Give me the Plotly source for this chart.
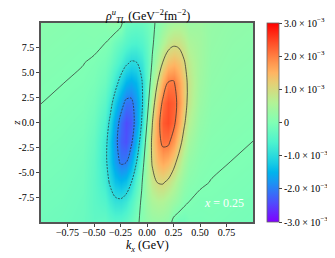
import plotly.graph_objects as go

# grid coordinates
KX = [-1.0, -0.8, -0.6, -0.5, -0.4, -0.35, -0.3, -0.25, -0.2, -0.15, -0.1, -0.05, 0.0,
      0.05, 0.1, 0.15, 0.2, 0.25, 0.3, 0.35, 0.4, 0.5, 0.6, 0.8, 1.0]
Z = [-10, -8, -6, -4, -2, 0, 2, 4, 6, 8, 10]

# rho_TL^u values in units of 1e-3 GeV^-2 fm^-2, one row per z (bottom to top)
row_m10 = [-0.179, -0.207, -0.26, -0.37, -0.332, -0.435, -0.489, -0.471, -0.378, -0.236, -0.076, 0.075, 0.194,
           0.267, 0.286, 0.256, 0.197, -0.10, -0.19, -0.17, -0.08, -0.075, -0.065, -0.093, -0.12]
row_m8 = [-0.149, -0.177, -0.24, -0.40, -0.531, -0.738, -0.883, -0.905, -0.782, -0.542, -0.241, 0.064, 0.326,
          0.510, 0.591, 0.566, 0.462, 0.322, 0.193, 0.05, -0.006, -0.045, -0.035, -0.063, -0.09]
row_m6 = [-0.119, -0.147, -0.21, -0.40, -0.714, -1.054, -1.339, -1.461, -1.351, -1.027, -0.560, -0.044, 0.434,
          0.808, 1.020, 1.045, 0.909, 0.671, 0.429, 0.236, 0.112, 0.027, -0.004, -0.033, -0.06]
row_m4 = [-0.089, -0.117, -0.18, -0.37, -0.808, -1.265, -1.707, -2.06, -2.03, -1.611, -1.016, -0.294, 0.437,
          1.057, 1.473, 1.620, 1.503, 1.180, 0.798, 0.465, 0.235, 0.079, 0.029, -0.003, -0.03]
row_m2 = [-0.059, -0.087, -0.14, -0.31, -0.768, -1.279, -1.830, -2.256, -2.379, -2.109, -1.487, -0.642, 0.278,
          1.132, 1.781, 2.111, 2.096, 1.744, 1.253, 0.775, 0.415, 0.15, 0.064, 0.027, -0.002]
row_0 = [-0.029, -0.057, -0.10, -0.23, -0.615, -1.085, -1.65, -2.16, -2.42, -2.30, -1.789, -0.974, 0.0,
         0.974, 1.789, 2.30, 2.42, 2.16, 1.65, 1.085, 0.615, 0.23, 0.10, 0.057, 0.029]
row_2 = [0.002, -0.027, -0.064, -0.15, -0.415, -0.775, -1.253, -1.744, -2.096, -2.111, -1.781, -1.132, -0.278,
         0.642, 1.487, 2.109, 2.379, 2.256, 1.830, 1.279, 0.768, 0.31, 0.14, 0.087, 0.059]
row_4 = [0.03, 0.003, -0.029, -0.079, -0.235, -0.465, -0.798, -1.180, -1.503, -1.620, -1.473, -1.057, -0.437,
         0.294, 1.016, 1.611, 2.03, 2.06, 1.707, 1.265, 0.808, 0.37, 0.18, 0.117, 0.089]
row_6 = [0.06, 0.033, 0.004, -0.027, -0.112, -0.236, -0.429, -0.671, -0.909, -1.045, -1.020, -0.808, -0.434,
         0.044, 0.560, 1.027, 1.351, 1.461, 1.339, 1.054, 0.714, 0.40, 0.21, 0.147, 0.119]
row_8 = [0.09, 0.063, 0.035, 0.045, 0.006, -0.05, -0.193, -0.322, -0.462, -0.566, -0.591, -0.510, -0.326,
         -0.064, 0.241, 0.542, 0.782, 0.905, 0.883, 0.738, 0.531, 0.40, 0.24, 0.177, 0.149]
row_10 = [0.12, 0.093, 0.065, 0.075, 0.08, 0.17, 0.19, 0.10, -0.197, -0.256, -0.286, -0.267, -0.194,
          -0.075, 0.076, 0.236, 0.378, 0.471, 0.489, 0.435, 0.332, 0.37, 0.26, 0.207, 0.179]

RHO = [row_m10, row_m8, row_m6, row_m4, row_m2, row_0, row_2, row_4, row_6, row_8, row_10]

# tick labels
X_TICKS = [-0.75, -0.5, -0.25, 0.0, 0.25, 0.5, 0.75]
X_LABELS = ["\u22120.75", "\u22120.50", "\u22120.25", "0.00", "0.25", "0.50", "0.75"]
Y_TICKS = [-7.5, -5.0, -2.5, 0.0, 2.5, 5.0, 7.5]
Y_LABELS = ["-7.5", "-5.0", "-2.5", "0.0", "2.5", "5.0", "7.5"]
CB_TICKS = [-3, -2, -1, 0, 1, 2, 3]
CB_LABELS = ["-3.0 \u00d7 10<sup>\u22123</sup>", "-2.0 \u00d7 10<sup>\u22123</sup>",
             "-1.0 \u00d7 10<sup>\u22123</sup>", "0",
             "1.0 \u00d7 10<sup>\u22123</sup>", "2.0 \u00d7 10<sup>\u22123</sup>",
             "3.0 \u00d7 10<sup>\u22123</sup>"]

RAINBOW = [
    [0.0, "rgb(128,0,255)"], [0.1, "rgb(77,79,252)"], [0.2, "rgb(26,150,243)"],
    [0.25, "rgb(0,180,236)"], [0.3, "rgb(26,206,227)"], [0.4, "rgb(77,243,206)"],
    [0.5, "rgb(128,255,180)"], [0.6, "rgb(179,243,150)"], [0.7, "rgb(230,206,116)"],
    [0.75, "rgb(255,180,98)"], [0.8, "rgb(255,150,79)"], [0.9, "rgb(255,79,40)"],
    [1.0, "rgb(255,0,0)"],
]

FONT = "Liberation Serif, Times New Roman, serif"
LINE_COLOR = "rgba(45,45,45,0.9)"

fig = go.Figure()
fig.add_trace(go.Heatmap(
    x=KX, y=Z, z=RHO, zsmooth="best", colorscale=RAINBOW, zmin=-3, zmax=3,
    hoverinfo="skip",
    colorbar=dict(
        x=1.066, xanchor="left", xpad=0, y=0.5, yanchor="middle", ypad=0,
        len=1, lenmode="fraction", thickness=12,
        outlinewidth=0.8, outlinecolor="#666",
        tickmode="array", tickvals=CB_TICKS, ticktext=CB_LABELS,
        ticks="outside", ticklen=3, tickcolor="#444",
        tickfont=dict(family=FONT, size=10, color="black"),
    ),
))
fig.add_trace(go.Contour(
    x=KX, y=Z, z=RHO, showscale=False, hoverinfo="skip",
    contours=dict(coloring="none", start=-2, end=-1, size=1),
    line=dict(color=LINE_COLOR, width=0.8, dash="2px,1.2px", smoothing=1.0),
))
fig.add_trace(go.Contour(
    x=KX, y=Z, z=RHO, showscale=False, hoverinfo="skip",
    contours=dict(coloring="none", start=0, end=2, size=1),
    line=dict(color=LINE_COLOR, width=0.8, smoothing=1.0),
))

axis_common = dict(
    showline=True, mirror=True, linecolor="#555", linewidth=1.5,
    ticks="outside", ticklen=3, tickwidth=1, tickcolor="#444",
    showgrid=False, zeroline=False,
    tickfont=dict(family=FONT, size=10, color="black"),
)
fig.update_xaxes(range=[-1, 1], tickmode="array", tickvals=X_TICKS, ticktext=X_LABELS,
                 ticklabelstandoff=-3, **axis_common)
fig.update_yaxes(range=[-10, 10], tickmode="array", tickvals=Y_TICKS, ticktext=Y_LABELS,
                 **axis_common)

# the page body adds an 8px margin, so the figure is 8px smaller and shifted
fig.update_layout(
    width=327, height=250,
    margin=dict(l=33, r=82, t=15, b=36, autoexpand=False),
    paper_bgcolor="white", plot_bgcolor="white",
    font=dict(family=FONT, size=10, color="black"),
    showlegend=False,
    annotations=[
        dict(text="<i>\u03c1</i><sup><i>u</i></sup><sub><i>TL</i></sub> (GeV<sup>\u22122</sup>fm<sup>\u22122</sup>)",
             xref="paper", yref="paper", x=0.5, y=1.033, xanchor="center", yanchor="middle",
             showarrow=False, font=dict(family=FONT, size=12, color="black")),
        dict(text="<i>k<sub>x</sub></i> (GeV)", xref="paper", yref="paper", x=0.5, y=-0.122,
             xanchor="center", yanchor="middle", showarrow=False,
             font=dict(family=FONT, size=12, color="black")),
        dict(text="<i>z</i>", xref="paper", yref="paper", x=-0.122, y=0.5, textangle=-90,
             xanchor="center", yanchor="middle", showarrow=False,
             font=dict(family=FONT, size=11, color="black")),
        dict(text="<i>x</i> = 0.25", xref="x", yref="y", x=0.73, y=-8.1,
             xanchor="center", yanchor="middle", showarrow=False,
             font=dict(family=FONT, size=12, color="white")),
    ],
)

fig.write_html("out.html")
